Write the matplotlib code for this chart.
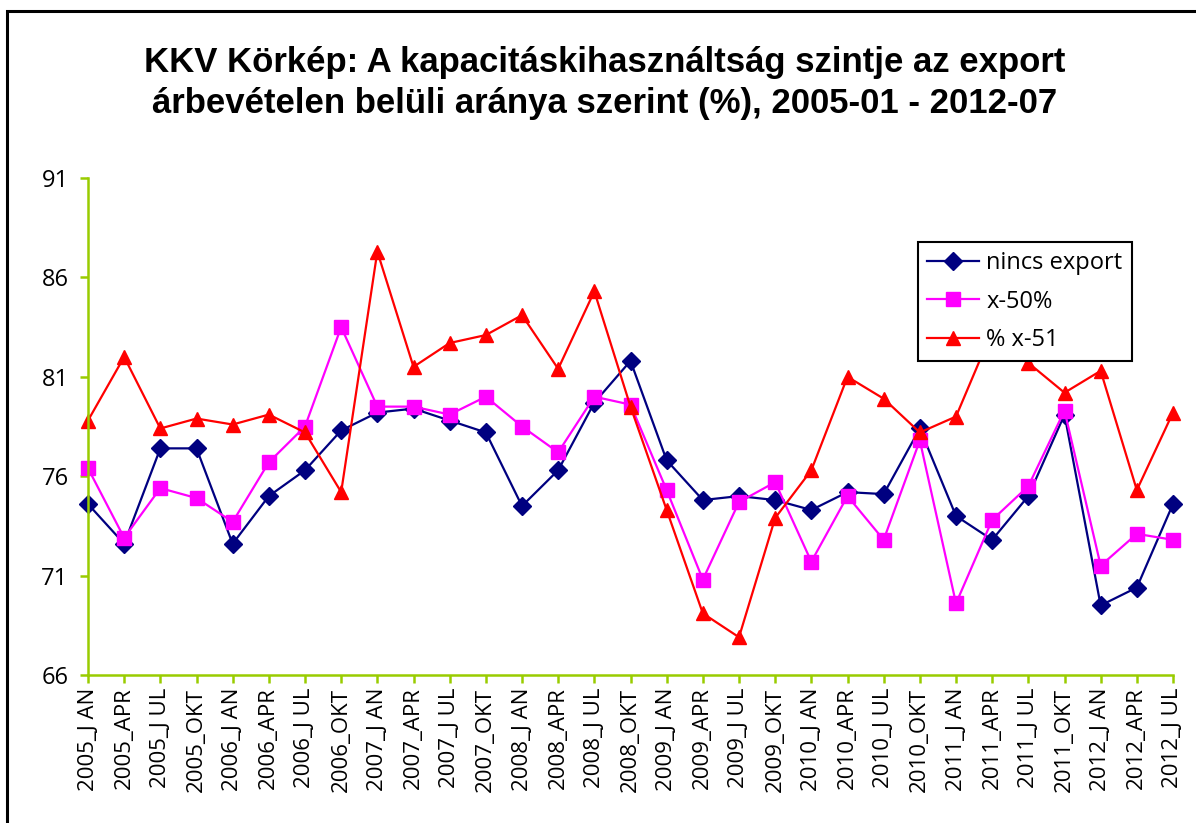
import matplotlib
matplotlib.use("Agg")
import matplotlib.pyplot as plt
from matplotlib.patches import Rectangle

# categories
periods = ["2005_J AN", "2005_APR", "2005_J UL", "2005_OKT",
           "2006_J AN", "2006_APR", "2006_J UL", "2006_OKT",
           "2007_J AN", "2007_APR", "2007_J UL", "2007_OKT",
           "2008_J AN", "2008_APR", "2008_J UL", "2008_OKT",
           "2009_J AN", "2009_APR", "2009_J UL", "2009_OKT",
           "2010_J AN", "2010_APR", "2010_J UL", "2010_OKT",
           "2011_J AN", "2011_APR", "2011_J UL", "2011_OKT",
           "2012_J AN", "2012_APR", "2012_J UL"]

nincs_export = [74.6, 72.6, 77.4, 77.4, 72.6, 75.0, 76.3, 78.3,
                79.2, 79.4, 78.8, 78.2, 74.5, 76.3, 79.7, 81.8,
                76.8, 74.8, 75.0, 74.8, 74.3, 75.2, 75.1, 78.4,
                74.0, 72.8, 75.0, 79.1, 69.5, 70.4, 74.6]

x_50 = [76.4, 72.9, 75.4, 74.9, 73.7, 76.7, 78.5, 83.5,
        79.5, 79.5, 79.1, 80.0, 78.5, 77.2, 80.0, 79.6,
        75.3, 70.8, 74.7, 75.7, 71.7, 75.0, 72.8, 77.8,
        69.6, 73.8, 75.5, 79.3, 71.5, 73.1, 72.8]

x_51 = [78.8, 82.0, 78.4, 78.9, 78.6, 79.1, 78.2, 75.2,
        87.3, 81.5, 82.7, 83.1, 84.1, 81.4, 85.3, 79.5,
        74.3, 69.1, 67.9, 73.9, 76.3, 81.0, 79.9, 78.2,
        79.0, 83.3, 81.7, 80.2, 81.3, 75.3, 79.2]

series_names = ["nincs export", "x-50%", "% x-51"]

title = ("KKV Körkép: A kapacitáskihasználtság szintje az export\n"
         "árbevételen belüli aránya szerint (%), 2005-01 - 2012-07")

axis_col = "#99CC00"

fig = plt.figure(figsize=(11.96, 8.23), dpi=100)
fig.patches.append(Rectangle((7 / 1196, -0.1), 1.2, (823 - 11) / 823 + 0.1,
                             transform=fig.transFigure, fill=False,
                             edgecolor="black", linewidth=2.2))

ax = fig.add_axes([88 / 1196, (823 - 675) / 823, (1173 - 88) / 1196, (675 - 178) / 823])
xs = list(range(len(periods)))

ax.plot(xs, nincs_export, color="#000080", marker="D", markersize=9, lw=1.6,
        label=series_names[0])
ax.plot(xs, x_50, color="#FF00FF", marker="s", markersize=9.5, lw=1.6,
        label=series_names[1])
ax.plot(xs, x_51, color="#FF0000", marker="^", markersize=10.5, lw=1.6,
        label=series_names[2])

ax.set_xlim(0, len(periods) - 1)
ax.set_ylim(66, 91)
ax.set_yticks([66, 71, 76, 81, 86, 91])
ax.set_xticks(xs)
ax.set_xticklabels(periods, rotation=90, fontsize=16, family="Open Sans")
for lab in ax.get_yticklabels():
    lab.set_fontsize(17)
    lab.set_family("Open Sans")

for s in ["top", "right"]:
    ax.spines[s].set_visible(False)
for s in ["left", "bottom"]:
    ax.spines[s].set_color(axis_col)
    ax.spines[s].set_linewidth(1.8)
    ax.spines[s].set_clip_on(False)
ax.tick_params(axis="both", color=axis_col, width=1.8, length=6)
ax.tick_params(axis="y", pad=8)
ax.tick_params(axis="x", pad=3)
for line in ax.get_lines():
    line.set_clip_on(False)

leg = ax.legend(loc="upper left", bbox_to_anchor=((918 - 88) / 1085, 1 - (242 - 178) / 497),
                frameon=True, fancybox=False, edgecolor="black", framealpha=1,
                prop={"family": "Open Sans", "size": 17}, handlelength=2.2,
                borderpad=0.4, labelspacing=0.6, handletextpad=0.3, borderaxespad=0)
leg.get_frame().set_linewidth(1.5)
leg.set_zorder(10)

fig.text(605 / 1196, (823 - 83) / 823, title, ha="center", va="center",
         fontsize=25, fontweight="bold", family="Liberation Sans", linespacing=1.32)

fig.savefig("out.png", dpi=100)
